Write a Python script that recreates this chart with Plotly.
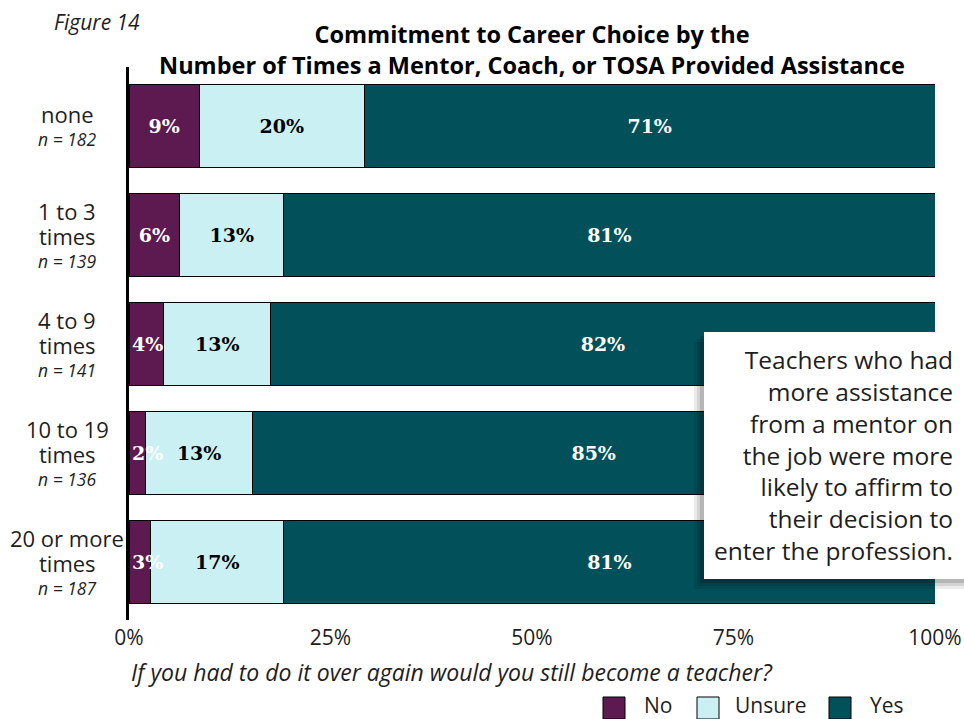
import plotly.graph_objects as go

categories = ["none", "1 to 3<br>times", "4 to 9<br>times", "10 to 19<br>times", "20 or more<br>times"]
n_sizes = ["182", "139", "141", "136", "187"]
no_vals = [8.7, 6.3, 4.3, 2.1, 2.7]
unsure_vals = [20.5, 12.9, 13.3, 13.2, 16.5]
yes_vals = [70.8, 80.8, 82.4, 84.7, 80.8]
no_labels = ["9%", "6%", "4%", "2%", "3%"]
unsure_labels = ["20%", "13%", "13%", "13%", "17%"]
yes_labels = ["71%", "81%", "82%", "85%", "81%"]
x_ticks = [0, 25, 50, 75, 100]
x_ticktext = ["0%", "25%", "50%", "75%", "100%"]
legend_names = ["No", "Unsure", "Yes"]

SANS = "'Open Sans', Lato, sans-serif"
SERIF = "'DejaVu Serif', 'Liberation Serif', serif"
TXT = "#1e1e1e"

L, R, T, B = 129, 29, 67, 99
W, H = 964, 719
pw, ph = W - L - R, H - T - B

def px_x(x):
    return (x - L) / pw

def px_y(y):
    return (H - B - y) / ph

colors = {"No": "#5c1a50", "Unsure": "#cbf0f4", "Yes": "#02505a"}
text_colors = {"No": "white", "Unsure": "black", "Yes": "white"}

# labels of No segments narrower than the text are anchored at the bar start
min_inside = 5.0
no_text = [lab if v >= min_inside else "" for v, lab in zip(no_vals, no_labels)]

fig = go.Figure()
for name, vals, labels in [("No", no_vals, no_text),
                           ("Unsure", unsure_vals, unsure_labels),
                           ("Yes", yes_vals, yes_labels)]:
    fig.add_trace(go.Bar(
        y=categories, x=vals, name=name, orientation="h",
        marker=dict(color=colors[name], line=dict(color="black", width=1)),
        text=labels, textposition="inside", insidetextanchor="middle",
        textangle=0, constraintext="none",
        textfont=dict(family=SERIF, size=19, color=text_colors[name], weight="bold"),
        hoverinfo="skip", showlegend=False,
    ))

annotations = []
for cat, v, lab in zip(categories, no_vals, no_labels):
    if v < min_inside:
        annotations.append(dict(
            x=0, xref="x", y=cat, yref="y", xshift=1,
            text="<b>" + lab + "</b>", showarrow=False,
            xanchor="left", yanchor="middle",
            font=dict(family=SERIF, size=19, color="white"),
        ))

LINE = 25
for cat, n in zip(categories, n_sizes):
    lines = cat.split("<br>") + ["<i>n = " + n + "</i>"]
    k = len(lines)
    for i, ln in enumerate(lines):
        off = (i - (k - 1) / 2) * LINE
        is_n = i == k - 1
        annotations.append(dict(
            x=px_x(67), xref="paper", y=cat, yref="y", yshift=-off - 1,
            text=ln, showarrow=False, xanchor="center", yanchor="middle",
            font=dict(family=SANS, size=17.5 if is_n else 22, color=TXT),
        ))

annotations.append(dict(
    x=px_x(52), xref="paper", y=px_y(22), yref="paper",
    text="<i>Figure 14</i>", showarrow=False, xanchor="left", yanchor="middle",
    font=dict(family=SANS, size=21, color=TXT),
))
annotations.append(dict(
    x=px_x(129), xref="paper", y=px_y(672), yref="paper",
    text="<i>If you had to do it over again would you still become a teacher?</i>",
    showarrow=False, xanchor="left", yanchor="middle",
    font=dict(family=SANS, size=23, color=TXT),
))
annotations.append(dict(
    x=px_x(955), xref="paper", y=px_y(455), yref="paper",
    text="Teachers who had<br>more assistance<br>from a mentor on<br>the job were more<br>likely to affirm to<br>their decision to<br>enter the profession.",
    showarrow=False, xanchor="right", yanchor="middle", align="right",
    font=dict(family=SANS, size=24.5, color=TXT),
))

shapes = []
for i, op in enumerate([0.08, 0.10, 0.14]):
    off = 10 - i * 3
    shapes.append(dict(
        type="rect", xref="paper", yref="paper", layer="above",
        x0=px_x(704 - off), x1=px_x(964), y0=px_y(579 + off), y1=px_y(332 + off),
        fillcolor="black", opacity=op, line=dict(width=0),
    ))
shapes.append(dict(
    type="rect", xref="paper", yref="paper", layer="above",
    x0=px_x(704), x1=px_x(970), y0=px_y(579), y1=px_y(332),
    fillcolor="white", line=dict(width=0),
))

# legend (large swatches)
sw_x = [603, 697, 829]
tx_x = [642, 733, 868]
for name, sx, tx in zip(legend_names, sw_x, tx_x):
    shapes.append(dict(
        type="rect", xref="paper", yref="paper", layer="above",
        x0=px_x(sx), x1=px_x(sx + 22), y0=px_y(719), y1=px_y(697),
        fillcolor=colors[name], line=dict(color="black", width=1),
    ))
    annotations.append(dict(
        x=px_x(tx), xref="paper", y=px_y(705), yref="paper",
        text=name, showarrow=False, xanchor="left", yanchor="middle",
        font=dict(family=SANS, size=21, color=TXT),
    ))

fig.update_layout(
    width=W, height=H,
    margin=dict(l=L, r=R, t=T, b=B, autoexpand=False),
    paper_bgcolor="white", plot_bgcolor="white",
    barmode="stack", bargap=0.24, showlegend=False,
    title=dict(
        text="<b>Commitment to Career Choice by the<br>Number of Times a Mentor, Coach, or TOSA Provided Assistance</b>",
        x=532 / W, xanchor="center", y=1 - 43 / H, yanchor="middle",
        font=dict(family=SANS, size=23.5, color="black"),
    ),
    xaxis=dict(
        range=[0, 100], tickvals=x_ticks, ticktext=x_ticktext,
        showgrid=False, zeroline=False, showline=False, ticks="",
        tickfont=dict(family=SANS, size=21, color=TXT),
        ticklabelstandoff=3,
        fixedrange=True,
    ),
    yaxis=dict(
        categoryorder="array", categoryarray=categories,
        range=[4.53, -0.54], showticklabels=False, ticks="",
        showgrid=False, zeroline=False,
        showline=True, linecolor="black", linewidth=3,
        fixedrange=True,
    ),
    annotations=annotations, shapes=shapes,
)

fig.write_html("out.html")
